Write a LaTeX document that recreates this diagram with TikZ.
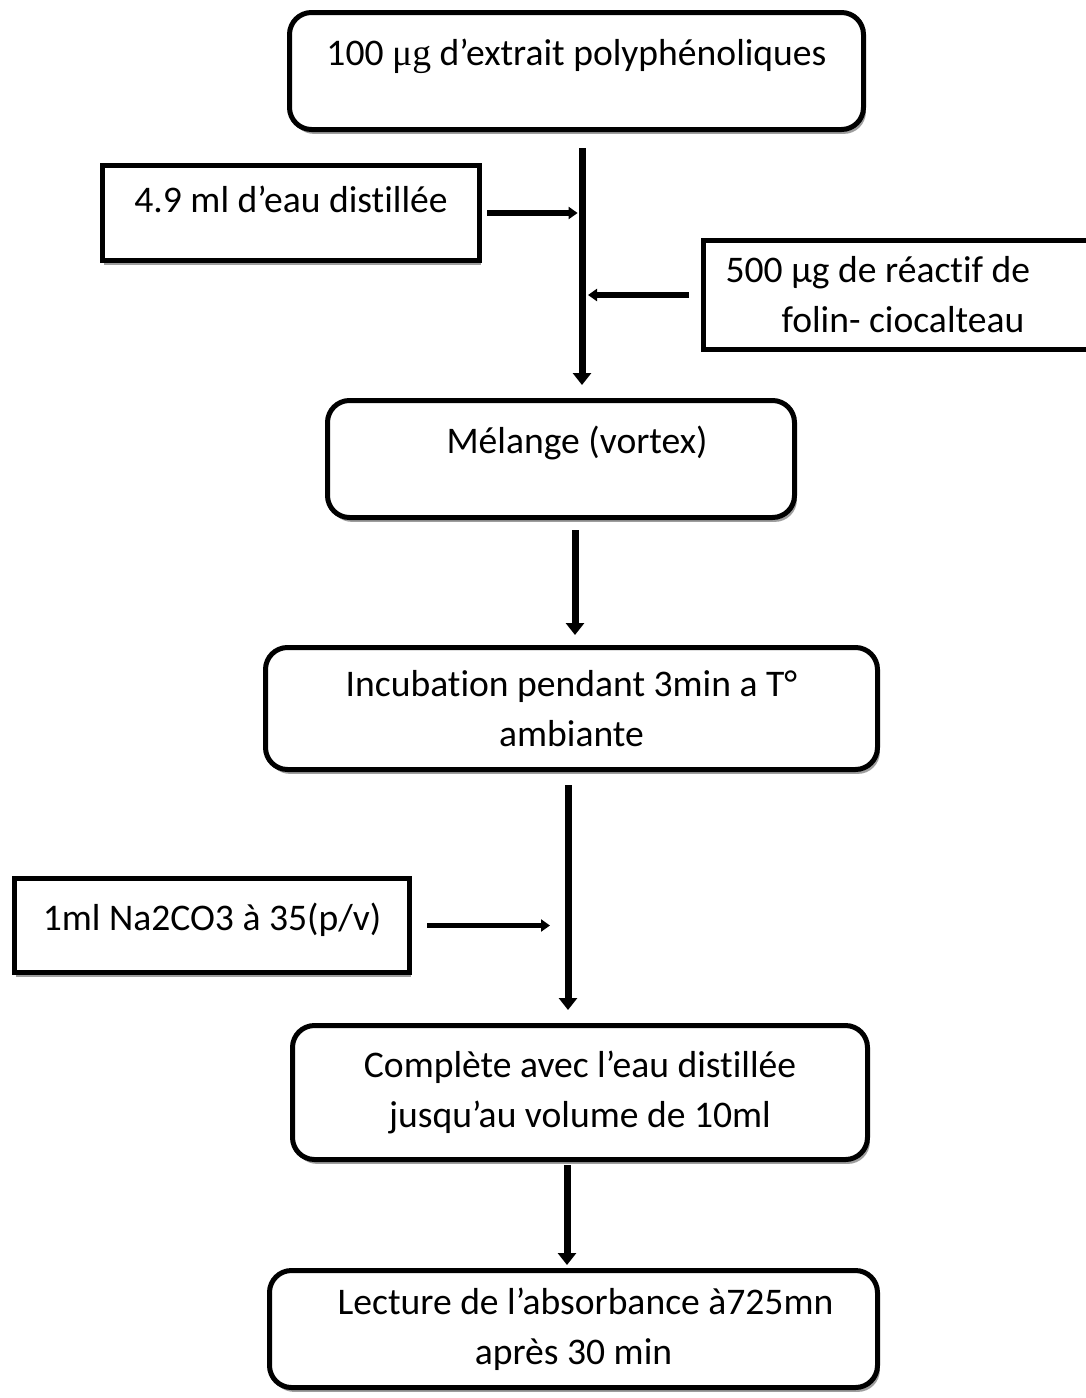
\documentclass[tikz,border=0pt]{standalone}
\usepackage{fontspec}
\setmainfont[Ligatures=NoCommon]{Carlito}
\newfontfamily\serifmu{Liberation Serif}
\usetikzlibrary{arrows.meta,shadows}

\begin{document}
\begin{tikzpicture}[x=0.5pt, y=-0.5pt,
  stage/.style={draw, line width=2.5pt, rounded corners=11pt, fill=white, align=center, font=\fontsize{18.8}{25}\selectfont, drop shadow={shadow xshift=1.2pt, shadow yshift=-2.2pt, fill=black!38, opacity=1}},
  reagent/.style={draw, line width=2.6pt, fill=white, align=center, font=\fontsize{18.8}{25}\selectfont},
  flat/.style={drop shadow={shadow xshift=0.6pt, shadow yshift=-2pt, fill=black!38, opacity=1}},
  raised/.style={text height=12pt, text depth=#1},
  mainarrow/.style={-{Triangle[width=9pt,length=6pt]}, line width=3.5pt},
  sidearrow/.style={-{Triangle[width=6pt,length=4.5pt]}, line width=2.6pt},
]
\useasboundingbox (0,0) rectangle (1086,1398);

\node[stage, raised=17.4pt, minimum width=287pt, minimum height=58.5pt] (extract) at (576.5,71) {100 {\serifmu μg} d’extrait polyphénoliques};
\node[reagent, flat, raised=12.4pt, minimum width=188.5pt, minimum height=47.5pt] (water) at (291,213) {4.9 ml d’eau distillée};
\node[reagent, anchor=west, align=flush left, text width=185pt, inner xsep=11pt, minimum height=54.5pt] (folin) at (701,295) {500 µg de réactif de\\\hspace*{28pt}folin- ciocalteau};
\node[stage, raised=17.4pt, minimum width=233.5pt, minimum height=58.5pt] (vortex) at (561,459) {\hspace*{16pt}Mélange (vortex)};
\node[stage, minimum width=306pt, minimum height=61pt] (incub) at (571.5,708.5) {Incubation pendant 3min a T°\\ambiante};
\node[reagent, flat, raised=6.9pt, minimum width=197.5pt, minimum height=47pt] (carbonate) at (212,925.5) {1ml Na2CO3 à 35(p/v)};
\node[stage, minimum width=287.5pt, minimum height=67pt] (complete) at (580,1092.5) {Complète avec l’eau distillée\\jusqu’au volume de 10ml};
\node[stage, minimum width=304pt, minimum height=58.5pt] (reading) at (573.5,1329) {\hspace*{12pt}Lecture de l’absorbance à725mn\\après 30 min};

\coordinate (trunk1) at (582,148);
\coordinate (trunk2) at (575,530);
\coordinate (trunk3) at (568,785);
\coordinate (trunk4) at (567,1165);

\draw[mainarrow, shorten >=6.5pt] (trunk1) -- (trunk1 |- vortex.north);
\draw[sidearrow, shorten <=2.5pt, shorten >=2.2pt] (water.east) -- (water.east -| trunk1);
\draw[sidearrow, shorten <=6pt, shorten >=3pt] (folin.west) -- (folin.west -| trunk1);
\draw[mainarrow, shorten >=5pt] (trunk2) -- (trunk2 |- incub.north);
\draw[mainarrow, shorten >=6.5pt] (trunk3) -- (trunk3 |- complete.north);
\draw[sidearrow, shorten <=7.5pt, shorten >=9pt] (carbonate.east) -- (carbonate.east -| trunk3);
\draw[mainarrow, shorten >=1.5pt] (trunk4) -- (trunk4 |- reading.north);
\end{tikzpicture}
\end{document}
